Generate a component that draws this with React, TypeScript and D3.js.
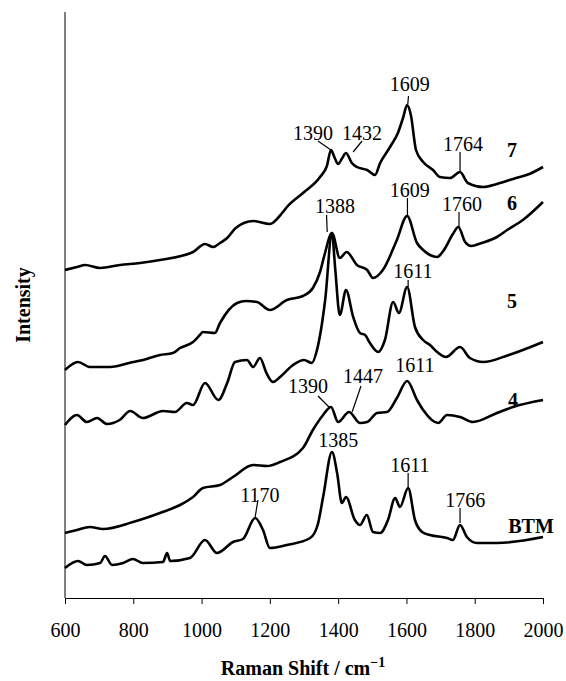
import React, { useEffect, useRef } from "react";
import * as d3 from "d3";

// wavenumber (cm-1) vs intensity (a.u., spectra already offset)
const xTicks = [600, 800, 1000, 1200, 1400, 1600, 1800, 2000];

const btm = [
  [600, 30], [638, 37], [664, 33], [703, 35], [717, 42], [738, 33], [770, 35], [799, 39],
  [828, 35], [887, 36], [899, 45], [908, 37], [966, 40], [1010, 58], [1045, 45], [1092, 56],
  [1121, 59], [1157, 80], [1180, 68], [1200, 50], [1250, 53], [1318, 60], [1340, 73],
  [1356, 101], [1382, 146], [1397, 125], [1411, 95], [1423, 101], [1449, 78], [1464, 73],
  [1484, 83], [1502, 66], [1523, 65], [1546, 78], [1567, 100], [1581, 91], [1605, 110],
  [1625, 78], [1646, 66], [1669, 63], [1719, 60], [1736, 58], [1757, 73], [1777, 61],
  [1807, 55], [1865, 55], [2000, 61],
];

const s4 = [
  [600, 65], [635, 68], [673, 71], [711, 69], [799, 76], [878, 85], [937, 93], [975, 101],
  [1004, 110], [1054, 113], [1092, 121], [1151, 133], [1192, 132], [1230, 136], [1297, 150],
  [1326, 168], [1356, 183], [1379, 191], [1400, 176], [1432, 186], [1464, 175], [1485, 176],
  [1514, 185], [1543, 186], [1572, 200], [1602, 217], [1631, 198], [1649, 188], [1693, 175],
  [1719, 183], [1757, 181], [1795, 176], [1865, 185], [1912, 191], [2000, 198],
];

const s5 = [
  [600, 173], [635, 183], [664, 176], [694, 180], [723, 174], [760, 178], [791, 187],
  [828, 180], [887, 187], [922, 186], [957, 195], [975, 193], [1010, 215], [1049, 198],
  [1075, 215], [1098, 236], [1133, 238], [1151, 231], [1171, 240], [1190, 225], [1209, 216],
  [1230, 221], [1268, 233], [1300, 238], [1323, 235], [1338, 248], [1362, 298], [1382, 365],
  [1391, 331], [1405, 283], [1423, 308], [1444, 281], [1464, 265], [1479, 263], [1493, 255],
  [1517, 246], [1537, 258], [1561, 296], [1578, 285], [1602, 311], [1625, 271], [1649, 258],
  [1669, 253], [1690, 246], [1716, 241], [1757, 251], [1786, 240], [1825, 236], [1900, 243],
  [2000, 256],
];

const s6 = [
  [600, 228], [638, 236], [673, 231], [732, 231], [800, 236], [829, 238], [878, 243],
  [916, 245], [937, 250], [975, 256], [995, 263], [1004, 266], [1039, 265], [1054, 275],
  [1104, 295], [1130, 297], [1162, 296], [1200, 288], [1250, 298], [1297, 302], [1326, 310],
  [1347, 326], [1360, 343], [1382, 365], [1405, 340], [1425, 346], [1455, 333], [1485, 328],
  [1502, 320], [1531, 328], [1572, 358], [1602, 382], [1631, 355], [1649, 348], [1669, 343],
  [1690, 341], [1710, 348], [1736, 364], [1752, 371], [1772, 356], [1790, 352], [1820, 355],
  [1865, 361], [1895, 368], [1941, 378], [2000, 396],
];

const s7 = [
  [600, 328], [635, 331], [659, 333], [703, 330], [761, 333], [820, 335], [878, 338],
  [975, 346], [1010, 354], [1034, 351], [1054, 355], [1075, 360], [1100, 370], [1151, 377],
  [1200, 374], [1236, 385], [1250, 391], [1297, 405], [1347, 421], [1367, 432], [1379, 448],
  [1390, 440], [1400, 434], [1412, 440], [1423, 445], [1440, 435], [1455, 431], [1485, 428],
  [1508, 423], [1523, 435], [1552, 451], [1575, 465], [1590, 480], [1602, 493], [1613, 483],
  [1628, 448], [1649, 436], [1678, 428], [1698, 421], [1728, 420], [1757, 426], [1780, 415],
  [1825, 411], [1865, 414], [1921, 420], [1960, 424], [2000, 431],
];

const spectra = [btm, s4, s5, s6, s7];

// sample names: [text, wavenumber, intensity]
const sampleLabels = [
  ["7", 1909, 441], ["6", 1909, 388], ["5", 1909, 290], ["4", 1912, 191], ["BTM", 1965, 65],
];

// peak labels: text, text x, text baseline, leader x1, y1, x2, y2
const peakLabels = [
  { text: "1390", tx: 1326, ty: 458, l: [1341, 457, 1379, 448] },
  { text: "1432", tx: 1470, ty: 458, l: [1470, 457, 1444, 446] },
  { text: "1609", tx: 1610, ty: 507, l: [1606, 502, 1604, 494] },
  { text: "1764", tx: 1766, ty: 447, l: [1757, 446, 1757, 426] },
  { text: "1388", tx: 1391, ty: 385, l: [1366, 383, 1368, 366] },
  { text: "1609", tx: 1610, ty: 401, l: [1603, 400, 1603, 383] },
  { text: "1760", tx: 1763, ty: 387, l: [1754, 386, 1754, 370] },
  { text: "1611", tx: 1619, ty: 320, l: [1605, 318, 1605, 311] },
  { text: "1390", tx: 1312, ty: 205, l: [1341, 202, 1376, 190] },
  { text: "1447", tx: 1473, ty: 215, l: [1467, 212, 1441, 186] },
  { text: "1611", tx: 1625, ty: 226, l: null },
  { text: "1385", tx: 1400, ty: 151, l: null },
  { text: "1611", tx: 1610, ty: 126, l: [1605, 125, 1605, 110] },
  { text: "1766", tx: 1772, ty: 91, l: [1757, 90, 1757, 75] },
  { text: "1170", tx: 1171, ty: 96, l: [1165, 98, 1157, 81] },
];

const App = () => {
  const svgRef = useRef(null);

  useEffect(() => {
    const svg = d3.select(svgRef.current);
    svg.selectAll("*").remove();

    const font = "'Liberation Serif', 'Times New Roman', serif";
    const x = d3.scaleLinear().domain([600, 2000]).range([65, 543]);
    const y = d3.scaleLinear().domain([0, 586]).range([598, 12]);

    const line = d3.line()
      .x((d) => x(d[0]))
      .y((d) => y(d[1]))
      .curve(d3.curveMonotoneX);

    svg.selectAll(".spectrum")
      .data(spectra)
      .join("path")
      .attr("class", "spectrum")
      .attr("d", (d) => line(d))
      .attr("fill", "none")
      .attr("stroke", "#000")
      .attr("stroke-width", 2.6)
      .attr("stroke-linejoin", "round");

    // y axis (no ticks)
    svg.append("line")
      .attr("x1", x(600)).attr("x2", x(600))
      .attr("y1", y(0)).attr("y2", y(586))
      .attr("stroke", "#000")
      .attr("stroke-width", 1);

    const xAxis = d3.axisBottom(x)
      .tickValues(xTicks)
      .tickSize(6)
      .tickSizeOuter(0)
      .tickPadding(19)
      .tickFormat(d3.format("d"));

    const gx = svg.append("g")
      .attr("transform", `translate(0,${y(0)})`)
      .call(xAxis);
    gx.selectAll("path, line").attr("stroke", "#000");
    gx.selectAll("text")
      .attr("fill", "#000")
      .style("font-family", font)
      .style("font-size", "20px");

    // peak annotations
    const ann = svg.append("g");
    ann.selectAll("text")
      .data(peakLabels)
      .join("text")
      .attr("x", (d) => x(d.tx))
      .attr("y", (d) => y(d.ty))
      .attr("text-anchor", "middle")
      .style("font-family", font)
      .style("font-size", "20px")
      .text((d) => d.text);
    ann.selectAll("line")
      .data(peakLabels.filter((d) => d.l))
      .join("line")
      .attr("x1", (d) => x(d.l[0]))
      .attr("y1", (d) => y(d.l[1]))
      .attr("x2", (d) => x(d.l[2]))
      .attr("y2", (d) => y(d.l[3]))
      .attr("stroke", "#000")
      .attr("stroke-width", 1.2);

    svg.append("g").selectAll("text")
      .data(sampleLabels)
      .join("text")
      .attr("x", (d) => x(d[1]))
      .attr("y", (d) => y(d[2]))
      .attr("text-anchor", "middle")
      .style("font-family", font)
      .style("font-size", "20px")
      .style("font-weight", "bold")
      .text((d) => d[0]);

    // axis titles
    const xt = svg.append("text")
      .attr("x", 303)
      .attr("y", 675)
      .attr("text-anchor", "middle")
      .style("font-family", font)
      .style("font-size", "20px")
      .style("font-weight", "bold");
    xt.append("tspan").text("Raman Shift / cm");
    xt.append("tspan").attr("dy", -8).style("font-size", "14px").text("\u22121");

    svg.append("text")
      .attr("transform", "translate(30,305) rotate(-90)")
      .attr("text-anchor", "middle")
      .style("font-family", font)
      .style("font-size", "20px")
      .style("font-weight", "bold")
      .text("Intensity");
  }, []);

  return (
    <svg
      ref={svgRef}
      width={566}
      height={681}
      style={{ position: "absolute", left: 0, top: 0, background: "#fff" }}
    />
  );
};

export default App;
